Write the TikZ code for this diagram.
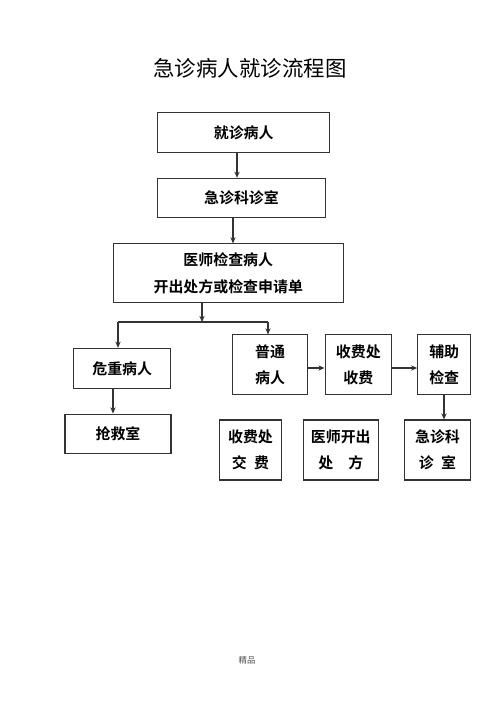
\documentclass[tikz,border=0pt]{standalone}
\usepackage{fontspec}
\setmainfont{Noto Sans CJK SC}[BoldFont={* Bold}]
\usepackage{tikz}
\usetikzlibrary{arrows.meta, calc}
\definecolor{rahmen}{HTML}{333333}

\begin{document}
\begin{tikzpicture}[x=0.02cm, y=-0.02cm, >={Stealth[length=3.5pt,width=3pt]},
    box/.style={draw=rahmen, line width=0.6pt, align=center, inner sep=0pt,
      font=\fontsize{8.5}{15}\selectfont\bfseries},
    line/.style={draw=rahmen, line width=0.6pt}]
  \useasboundingbox (0,0) rectangle (500,708);

  % 标题
  \node[font=\fontsize{12.2}{14}\selectfont] (titel) at (250,68) {急诊病人就诊流程图};

  % 主流程
  \node[box, minimum width=3.45cm, minimum height=0.79cm] (jzbr) at (243.7,132.5) {就诊病人};
  \node[box, minimum width=3.37cm, minimum height=0.78cm] (jzks) at (241.5,197.8) {急诊科诊室};
  \node[box, minimum width=4.6cm, minimum height=1.17cm] (ysjc) at (228.3,273.2) {医师检查病人\\开出处方或检查申请单};

  \draw[line, ->] (jzbr.south -| 237,0) -- (jzks.north -| 237,0);
  \draw[line, ->] (jzks.south -| 233,0) -- (ysjc.north -| 233,0);

  % 分支
  \coordinate (teil) at (202,322);
  \draw[line, ->] (ysjc.south -| teil) -- (teil);
  \draw[line] (118,322) -- (268,322);

  % 危重病人
  \node[box, minimum width=1.95cm, minimum height=0.8cm] (wzbr) at (122.2,368.3) {危重病人};
  \node[box, minimum width=2.12cm, minimum height=0.79cm] (qjs) at (118,433.8) {抢救室};
  \draw[line, ->] (teil -| 118,0) -- (wzbr.north -| 118,0);
  \draw[line, ->] (wzbr.south -| 113,0) -- (qjs.north -| 113,0);

  % 普通病人
  \node[box, minimum width=1.51cm, minimum height=1.19cm] (ptbr) at (270,364.7) {普通\\病人};
  \node[box, minimum width=1.33cm, minimum height=1.19cm] (sfc) at (358.3,364.7) {收费处\\收费};
  \node[box, minimum width=1.06cm, minimum height=1.19cm] (fzjc) at (444.2,364.7) {辅助\\检查};
  \draw[line, ->] (teil -| 268,0) -- (ptbr.north -| 268,0);
  \draw[line, ->] (ptbr.east |- 0,368) -- (sfc.west |- 0,368);
  \draw[line, ->] (sfc.east |- 0,368) -- (fzjc.west |- 0,368);

  % 第二排
  \node[box, minimum width=1.25cm, minimum height=1.2cm] (sfjf) at (250.5,450) {收费处\\交\hspace{0.5em}费};
  \node[box, minimum width=1.5cm, minimum height=1.2cm] (kcf) at (340.8,450) {医师开出\\处\hspace{1em}方};
  \node[box, minimum width=1.33cm, minimum height=1.2cm] (jzks2) at (437.5,450) {急诊科\\诊\hspace{0.5em}室};
  \draw[line, ->] (fzjc.south -| 444,0) -- (jzks2.north -| 444,0);

  % 页脚
  \node[font=\fontsize{4.8}{6}\selectfont, text=black!70] (fuss) at (247,660) {精品};
\end{tikzpicture}
\end{document}
